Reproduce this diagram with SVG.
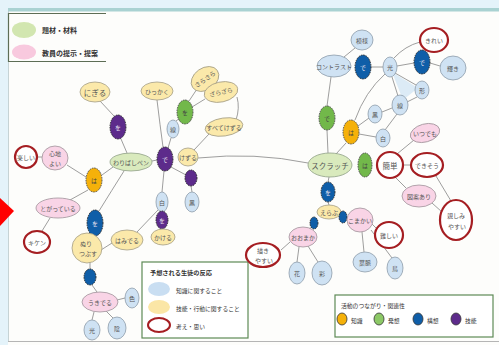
<svg xmlns="http://www.w3.org/2000/svg" width="499" height="345" viewBox="0 0 499 345">
<defs>
<style>
.bg{fill:#fdfdfb}
.c line,.c path{stroke:#858585;stroke-width:0.8;fill:none}
.g{fill:#d9eabd;stroke:#8f9f86;stroke-width:0.8}
.p{fill:#f9d4e6;stroke:#a0939a;stroke-width:0.8}
.y{fill:#fbe9aa;stroke:#a39d85;stroke-width:0.8}
.b{fill:#cfe2f3;stroke:#8d9caa;stroke-width:0.8}
.r{fill:#fff;stroke:#a51e22;stroke-width:2.2}
.pu{fill:#5d2b8b;stroke:#222;stroke-width:0.9;stroke-dasharray:1.6 0.9}
.or{fill:#f5b10a;stroke:#444;stroke-width:0.9;stroke-dasharray:1.6 0.9}
.db{fill:#0f5ea8;stroke:#222;stroke-width:0.9;stroke-dasharray:1.6 0.9}
.gc{fill:#72b84a;stroke:#444;stroke-width:0.9;stroke-dasharray:1.6 0.9}
text{font-family:"Noto Sans CJK JP","Noto Sans",sans-serif;text-anchor:middle;dominant-baseline:central}
.t{font-size:7.5px;fill:#555}
.s{font-size:6px;fill:#555}
.w{font-size:6px;fill:#e8e0f0}
.k{font-size:6px;fill:#444}
.lg{font-size:7px;fill:#333;text-anchor:start;font-weight:bold}
.lt{font-size:6.2px;fill:#333;text-anchor:start;font-weight:bold}
.ls{font-size:5.8px;fill:#333;text-anchor:start}
</style>
</defs>
<rect class="bg" x="0" y="0" width="499" height="345"/>
<rect x="0" y="0" width="499" height="8" fill="#e4f3fa"/>
<rect x="0" y="0" width="8" height="345" fill="#e4f3fa"/>
<rect x="8" y="8" width="491" height="3.5" fill="#a9d2d2"/>
<line x1="8.5" y1="11" x2="8.5" y2="342" stroke="#b8c8cc" stroke-width="0.8"/>
<line x1="8" y1="341.5" x2="499" y2="341.5" stroke="#b5b5b5" stroke-width="1"/>
<polygon points="0,198 14,211 0,226" fill="#ff0000"/>

<g id="legend-material">
<path d="M106 13.5 H8.5 V61.5 H106" fill="none" stroke="#5d6d55" stroke-width="1.2"/>
<ellipse cx="24" cy="30" rx="12" ry="8" fill="#d2e6b0"/>
<text class="lg" x="42" y="30">題材・材料</text>
<ellipse cx="24" cy="52" rx="12" ry="7.5" fill="#f8c9de"/>
<text class="lg" x="42" y="53">教員の提示・提案</text>
</g>

<g id="legend-response">
<rect x="142" y="262" width="106" height="76" fill="#fff" stroke="#5e8a55" stroke-width="1.2"/>
<text class="lt" x="150" y="272">予想される生徒の反応</text>
<ellipse cx="159" cy="289" rx="11" ry="7" fill="#c9def2"/>
<text class="ls" x="176" y="290">知識に関すること</text>
<ellipse cx="159" cy="307" rx="11" ry="7" fill="#fbe6a6"/>
<text class="ls" x="176" y="308">技能・行動に関すること</text>
<ellipse cx="159" cy="325" rx="11" ry="7" fill="#fff" stroke="#a51e22" stroke-width="2"/>
<text class="ls" x="176" y="326">考え・思い</text>
</g>

<g id="legend-activity">
<rect x="335" y="295" width="158" height="42" fill="#fff" stroke="#5e8a55" stroke-width="1.2"/>
<text class="ls" x="341" y="305">活動のつながり・関連性</text>
<ellipse cx="342" cy="319" rx="5" ry="6" fill="#f5b10a" stroke="#333" stroke-width="0.8"/>
<text class="ls" x="351" y="320">知識</text>
<ellipse cx="379" cy="319" rx="5" ry="6" fill="#8cc866" stroke="#333" stroke-width="0.8"/>
<text class="ls" x="388" y="320">発想</text>
<ellipse cx="418" cy="319" rx="5" ry="6" fill="#0f5ea8" stroke="#333" stroke-width="0.8"/>
<text class="ls" x="427" y="320">構想</text>
<ellipse cx="456" cy="319" rx="5" ry="6" fill="#5d2b8b" stroke="#333" stroke-width="0.8"/>
<text class="ls" x="465" y="320">技能</text>
</g>

<g id="connectors" class="c">
<polygon points="392,72 418,88 403,100" fill="#dcebf6" stroke="none"/>
<line x1="100" y1="101" x2="114" y2="116"/>
<line x1="121" y1="139" x2="127" y2="153"/>
<line x1="152" y1="161" x2="157" y2="160"/>
<line x1="113" y1="167" x2="102" y2="175"/>
<line x1="86" y1="177" x2="67" y2="165"/>
<line x1="42" y1="157" x2="37" y2="157"/>
<path d="M124 171 Q112 190 99 211"/>
<line x1="88" y1="190" x2="70" y2="200"/>
<line x1="50" y1="218" x2="42" y2="231"/>
<line x1="101" y1="250" x2="112" y2="243"/>
<line x1="90" y1="262" x2="90" y2="269"/>
<line x1="92" y1="285" x2="97" y2="292"/>
<line x1="117" y1="300" x2="125" y2="298"/>
<line x1="94" y1="312" x2="92" y2="320"/>
<line x1="106" y1="311" x2="113" y2="318"/>
<path d="M157 100 Q160 125 163 147"/>
<line x1="168" y1="148" x2="171" y2="138"/>
<line x1="176" y1="121" x2="180" y2="118"/>
<line x1="189" y1="101" x2="197" y2="89"/>
<line x1="192" y1="107" x2="205" y2="99"/>
<path d="M237 97 Q240 108 236 120"/>
<line x1="209" y1="134" x2="194" y2="150"/>
<path d="M198 158 Q255 152 308 163"/>
<line x1="171" y1="167" x2="186" y2="175"/>
<line x1="191" y1="186" x2="192" y2="192"/>
<line x1="164" y1="171" x2="162" y2="192"/>
<line x1="158" y1="210" x2="137" y2="232"/>
<line x1="355" y1="48" x2="344" y2="57"/>
<line x1="371" y1="67" x2="383" y2="67"/>
<line x1="397" y1="66" x2="414" y2="63"/>
<line x1="430" y1="63" x2="440" y2="66"/>
<path d="M394 58 Q405 46 420 42"/>
<line x1="395" y1="73" x2="416" y2="85"/>
<line x1="417" y1="97" x2="407" y2="102"/>
<line x1="392" y1="77" x2="398" y2="96"/>
<path d="M385 74 Q365 92 355 120"/>
<line x1="358" y1="126" x2="369" y2="118"/>
<line x1="359" y1="134" x2="376" y2="137"/>
<line x1="382" y1="112" x2="392" y2="108"/>
<line x1="397" y1="114" x2="385" y2="130"/>
<line x1="331" y1="77" x2="327" y2="106"/>
<line x1="327" y1="130" x2="328" y2="153"/>
<line x1="346" y1="143" x2="336" y2="154"/>
<line x1="397" y1="154" x2="414" y2="140"/>
<line x1="403" y1="165" x2="411" y2="165"/>
<line x1="395" y1="177" x2="406" y2="188"/>
<line x1="436" y1="176" x2="451" y2="201"/>
<line x1="432" y1="203" x2="442" y2="212"/>
<line x1="329" y1="177" x2="328" y2="182"/>
<line x1="328" y1="202" x2="329" y2="205"/>
<line x1="311" y1="228" x2="307" y2="229"/>
<line x1="372" y1="224" x2="377" y2="229"/>
<line x1="299" y1="247" x2="297" y2="262"/>
<line x1="308" y1="246" x2="318" y2="262"/>
<line x1="362" y1="232" x2="364" y2="252"/>
<line x1="371" y1="230" x2="392" y2="258" stroke="#c99"/>
<line x1="281" y1="250" x2="290" y2="242"/>
</g>

<g id="n-nigiru"><ellipse class="y" cx="95" cy="92" rx="15" ry="10"/><text class="t" x="95" y="92">にぎる</text></g>
<g id="n-wo1"><ellipse class="pu" cx="118" cy="127" rx="8" ry="12"/><text class="w" x="118" y="127">を</text></g>
<g id="n-waribashi"><ellipse class="g" cx="131" cy="162" rx="21" ry="9"/><text class="s" x="131" y="162">わりばしペン</text></g>
<g id="n-de1"><ellipse class="pu" cx="165" cy="159" rx="8" ry="12"/><text class="w" x="165" y="159">で</text></g>
<g id="n-ha1"><ellipse class="or" cx="94" cy="180" rx="8" ry="12"/><text class="k" x="94" y="180">は</text></g>
<g id="n-kokochi"><ellipse class="p" cx="55" cy="158" rx="13" ry="12"/><text class="s" x="55" y="153">心地</text><text class="s" x="55" y="163">よい</text></g>
<g id="n-tanoshii"><ellipse class="r" cx="26" cy="157" rx="11" ry="11"/><text class="s" x="26" y="157">楽しい</text></g>
<g id="n-togatte"><ellipse class="p" cx="58" cy="208" rx="22" ry="10"/><text class="s" x="58" y="208">とがっている</text></g>
<g id="n-kiken"><ellipse class="r" cx="37" cy="242" rx="13" ry="11"/><text class="s" x="37" y="242">キケン</text></g>
<g id="n-wo2"><ellipse class="db" cx="95" cy="223" rx="8" ry="13"/><text class="w" x="95" y="223">を</text></g>
<g id="n-nuri"><ellipse class="y" cx="87" cy="248" rx="15" ry="15"/><text class="s" x="86" y="243">ぬり</text><text class="s" x="88" y="253">つぶす</text></g>
<g id="n-hamideru"><ellipse class="y" cx="127" cy="240" rx="16" ry="10"/><text class="s" x="127" y="240">はみでる</text></g>
<g id="n-dot1"><ellipse class="db" cx="90" cy="277" rx="6" ry="8"/></g>
<g id="n-ukideru"><ellipse class="p" cx="100" cy="302" rx="18" ry="10"/><text class="s" x="100" y="302">うきでる</text></g>
<g id="n-iro"><ellipse class="b" cx="132" cy="298" rx="7" ry="10"/><text class="s" x="132" y="298">色</text></g>
<g id="n-hikari1"><ellipse class="b" cx="92" cy="330" rx="8" ry="10"/><text class="s" x="92" y="330">光</text></g>
<g id="n-kage"><ellipse class="b" cx="117" cy="328" rx="9" ry="11"/><text class="s" x="117" y="328">陰</text></g>
<g id="n-hikkaku"><ellipse class="y" cx="157" cy="91" rx="16" ry="9"/><text class="s" x="157" y="91">ひっかく</text></g>
<g id="n-sarasara"><ellipse class="y" cx="205" cy="79" rx="15" ry="11" transform="rotate(-35 205 79)"/><text class="s" x="205" y="79" transform="rotate(-35 205 79)">さらさら</text></g>
<g id="n-zarazara"><ellipse class="y" cx="221" cy="92" rx="17" ry="10" transform="rotate(-12 221 92)"/><text class="s" x="221" y="92" transform="rotate(-12 221 92)">ざらざら</text></g>
<g id="n-wo3"><ellipse class="gc" cx="185" cy="112" rx="8" ry="12"/><text class="k" x="185" y="112">を</text></g>
<g id="n-sen1"><ellipse class="b" cx="173" cy="129" rx="6" ry="9"/><text class="s" x="173" y="129">線</text></g>
<g id="n-subete"><ellipse class="y" cx="224" cy="127" rx="19" ry="9" transform="rotate(-8 224 127)"/><text class="s" x="224" y="127">すべてけずる</text></g>
<g id="n-kezuru"><ellipse class="y" cx="188" cy="157" rx="10" ry="9"/><text class="s" x="188" y="157">けずる</text></g>
<g id="n-dot2"><ellipse class="pu" cx="191" cy="178" rx="6" ry="8"/></g>
<g id="n-kuro1"><ellipse class="b" cx="192" cy="202" rx="7" ry="10"/><text class="s" x="192" y="202">黒</text></g>
<g id="n-shiro1"><ellipse class="b" cx="162" cy="202" rx="6" ry="10"/><text class="s" x="162" y="202">白</text></g>
<g id="n-wo4"><ellipse class="pu" cx="162" cy="220" rx="6" ry="9"/><text class="w" x="162" y="220">を</text></g>
<g id="n-kakeru"><ellipse class="y" cx="163" cy="237" rx="12" ry="8"/><text class="s" x="163" y="237">かける</text></g>

<g id="n-moyou"><ellipse class="b" cx="362" cy="40" rx="11" ry="10"/><text class="s" x="362" y="40">模様</text></g>
<g id="n-contrast"><ellipse class="b" cx="334" cy="66" rx="17" ry="11"/><text class="s" x="334" y="66">コントラスト</text></g>
<g id="n-de2"><ellipse class="db" cx="363" cy="67" rx="8" ry="12"/><text class="w" x="363" y="67">で</text></g>
<g id="n-hikari2"><ellipse class="b" cx="390" cy="67" rx="7" ry="10"/><text class="s" x="390" y="67">光</text></g>
<g id="n-de3"><ellipse class="db" cx="422" cy="62" rx="8" ry="12"/><text class="w" x="422" y="62">で</text></g>
<g id="n-kirei"><ellipse class="r" cx="434" cy="40" rx="14" ry="12"/><text class="s" x="434" y="40">きれい</text></g>
<g id="n-kagayaki"><ellipse class="b" cx="453" cy="68" rx="13" ry="12"/><text class="s" x="453" y="68">輝き</text></g>
<g id="n-katachi"><ellipse class="b" cx="422" cy="90" rx="7" ry="9"/><text class="s" x="422" y="90">形</text></g>
<g id="n-sen2"><ellipse class="b" cx="400" cy="105" rx="8" ry="10"/><text class="s" x="400" y="105">線</text></g>
<g id="n-kuro2"><ellipse class="b" cx="375" cy="114" rx="7" ry="9"/><text class="s" x="375" y="114">黒</text></g>
<g id="n-de4"><ellipse class="gc" cx="327" cy="118" rx="8" ry="12"/><text class="k" x="327" y="118">で</text></g>
<g id="n-ha2"><ellipse class="or" cx="351" cy="132" rx="8" ry="12"/><text class="k" x="351" y="132">は</text></g>
<g id="n-shiro2"><ellipse class="b" cx="383" cy="138" rx="7" ry="9"/><text class="s" x="383" y="138">白</text></g>
<g id="n-itsudemo"><ellipse class="p" cx="425" cy="133" rx="15" ry="9" transform="rotate(-15 425 133)"/><text class="s" x="425" y="133">いつでも</text></g>
<g id="n-scratch"><ellipse class="g" cx="330" cy="165" rx="22" ry="12"/><text class="t" x="330" y="165">スクラッチ</text></g>
<g id="n-ha3"><ellipse class="gc" cx="365" cy="165" rx="7" ry="12"/><text class="k" x="365" y="165">は</text></g>
<g id="n-kantan"><ellipse class="r" cx="390" cy="165" rx="13" ry="13"/><text class="t" x="390" y="165">簡単</text></g>
<g id="n-dekisou"><ellipse class="r" cx="427" cy="165" rx="16" ry="12"/><text class="s" x="427" y="165">できそう</text></g>
<g id="n-zuan"><ellipse class="p" cx="419" cy="196" rx="17" ry="11"/><text class="s" x="419" y="196">図案あり</text></g>
<g id="n-shitashimi"><ellipse class="r" cx="456" cy="220" rx="16" ry="20"/><text class="s" x="456" y="215">親しみ</text><text class="s" x="457" y="226">やすい</text></g>
<g id="n-wo5"><ellipse class="db" cx="328" cy="192" rx="7" ry="10"/><text class="w" x="328" y="192">を</text></g>
<g id="n-erabu"><ellipse class="y" cx="329" cy="212" rx="12" ry="7"/><text class="s" x="329" y="212">えらぶ</text></g>
<g id="n-dot3"><ellipse class="db" cx="314" cy="223" rx="4" ry="6"/></g>
<g id="n-dot4"><ellipse class="db" cx="343" cy="217" rx="4" ry="6"/></g>
<g id="n-oomaka"><ellipse class="p" cx="303" cy="237" rx="14" ry="10"/><text class="s" x="303" y="237">おおまか</text></g>
<g id="n-komakai"><ellipse class="p" cx="360" cy="220" rx="13" ry="12"/><text class="s" x="360" y="220">こまかい</text></g>
<g id="n-muzukashii"><ellipse class="r" cx="389" cy="235" rx="14" ry="13"/><text class="s" x="389" y="235">難しい</text></g>
<g id="n-egaki"><ellipse class="r" cx="263" cy="255" rx="17" ry="12"/><text class="s" x="263" y="250">描き</text><text class="s" x="264" y="260">やすい</text></g>
<g id="n-hana"><ellipse class="b" cx="297" cy="273" rx="8" ry="11"/><text class="s" x="297" y="273">花</text></g>
<g id="n-irodori"><ellipse class="b" cx="322" cy="273" rx="10" ry="12"/><text class="s" x="322" y="273">彩</text></g>
<g id="n-youmyaku"><ellipse class="b" cx="365" cy="262" rx="12" ry="10"/><text class="s" x="365" y="262">葉脈</text></g>
<g id="n-tori"><ellipse class="b" cx="395" cy="268" rx="8" ry="11"/><text class="s" x="395" y="268">鳥</text></g>
</svg>
